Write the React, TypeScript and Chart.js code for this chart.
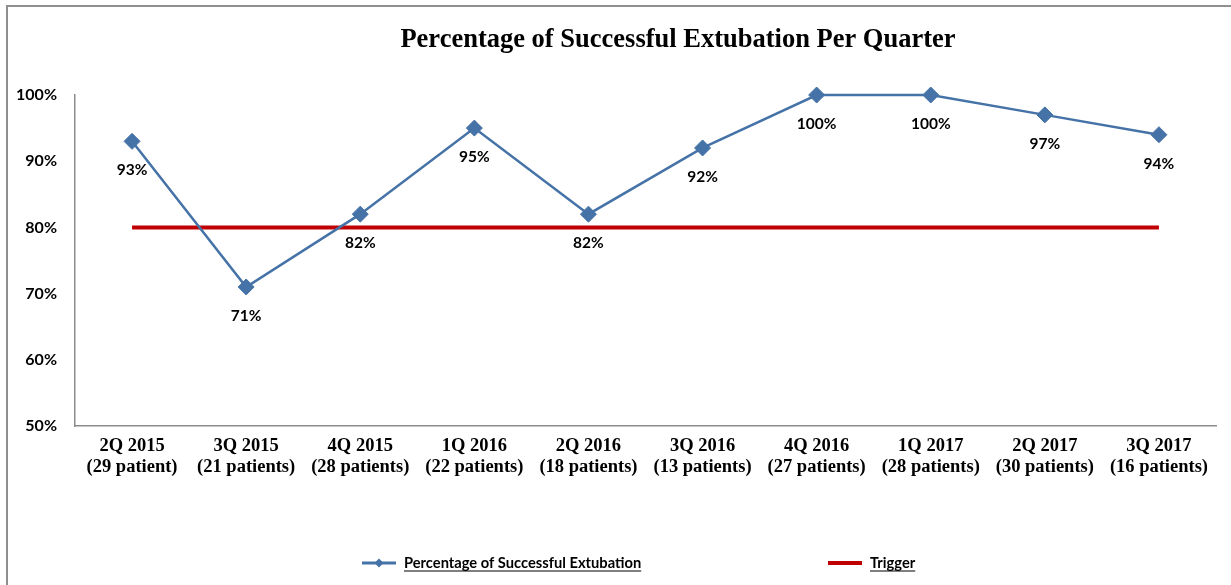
import React, { useEffect, useRef } from "react";
import { Chart, registerables } from "chart.js";

Chart.register(...registerables);

const TITLE = "Percentage of Successful Extubation Per Quarter";
const quarters = ["2Q 2015", "3Q 2015", "4Q 2015", "1Q 2016", "2Q 2016", "3Q 2016", "4Q 2016", "1Q 2017", "2Q 2017", "3Q 2017"];
const patients = ["(29 patient)", "(21 patients)", "(28 patients)", "(22 patients)", "(18 patients)", "(13 patients)", "(27 patients)", "(28 patients)", "(30 patients)", "(16 patients)"];
const successPct = [93, 71, 82, 95, 82, 92, 100, 100, 97, 94];
const triggerPct = [80, 80, 80, 80, 80, 80, 80, 80, 80, 80];
const SERIES_NAME = "Percentage of Successful Extubation";
const TRIGGER_NAME = "Trigger";

const BLUE = "#4572A7";
const RED = "#C00000";
const SANS = "Lato, 'Open Sans', sans-serif";
const SERIF = "'Liberation Serif', 'DejaVu Serif', serif";

const overlay = {
  id: "overlay",
  afterDatasetsDraw(chart: any) {
    const ctx = chart.ctx;
    const meta = chart.getDatasetMeta(0);
    ctx.save();
    ctx.fillStyle = "#000";
    ctx.font = `bold 15.5px ${SANS}`;
    ctx.textAlign = "center";
    ctx.textBaseline = "middle";
    meta.data.forEach((pt: any, i: number) => {
      ctx.fillText(successPct[i] + "%", pt.x, pt.y + 29);
    });
    ctx.restore();
  },
  afterDraw(chart: any) {
    const ctx = chart.ctx;
    ctx.save();
    // title
    ctx.fillStyle = "#000";
    ctx.font = `bold 26.5px ${SERIF}`;
    ctx.textAlign = "center";
    ctx.textBaseline = "middle";
    ctx.fillText(TITLE, 678, 40);

    // legend
    const ly = 563;
    ctx.font = `bold 14.7px ${SANS}`;
    ctx.textAlign = "left";
    ctx.textBaseline = "middle";
    // blue entry
    ctx.strokeStyle = BLUE;
    ctx.lineWidth = 3;
    ctx.beginPath();
    ctx.moveTo(362, ly);
    ctx.lineTo(396, ly);
    ctx.stroke();
    ctx.fillStyle = BLUE;
    ctx.beginPath();
    ctx.moveTo(379, ly - 4.5);
    ctx.lineTo(383.5, ly);
    ctx.lineTo(379, ly + 4.5);
    ctx.lineTo(374.5, ly);
    ctx.closePath();
    ctx.fill();
    ctx.fillStyle = "#000";
    const t1x = 404;
    ctx.fillText(SERIES_NAME, t1x, ly);
    const w1 = ctx.measureText(SERIES_NAME).width;
    ctx.strokeStyle = "#000";
    ctx.lineWidth = 1;
    ctx.beginPath();
    ctx.moveTo(t1x, ly + 8);
    ctx.lineTo(t1x + w1, ly + 8);
    ctx.stroke();
    // red entry
    ctx.strokeStyle = RED;
    ctx.lineWidth = 4;
    ctx.beginPath();
    ctx.moveTo(828, ly);
    ctx.lineTo(862, ly);
    ctx.stroke();
    const t2x = 870;
    ctx.fillStyle = "#000";
    ctx.fillText(TRIGGER_NAME, t2x, ly);
    const w2 = ctx.measureText(TRIGGER_NAME).width;
    ctx.strokeStyle = "#000";
    ctx.lineWidth = 1;
    ctx.beginPath();
    ctx.moveTo(t2x, ly + 8);
    ctx.lineTo(t2x + w2, ly + 8);
    ctx.stroke();
    ctx.restore();
  },
};

export default function App() {
  const ref = useRef<HTMLCanvasElement | null>(null);

  useEffect(() => {
    document.body.style.margin = "0";
    if (!ref.current) return;
    const labels = quarters.map((q, i) => [q, patients[i]]);
    const chart = new Chart(ref.current, {
      type: "line",
      data: {
        labels,
        datasets: [
          {
            label: SERIES_NAME,
            data: successPct,
            borderColor: BLUE,
            backgroundColor: BLUE,
            borderWidth: 2.5,
            pointStyle: "rectRot",
            pointRadius: 8,
            pointBorderWidth: 1,
            pointBackgroundColor: BLUE,
            pointBorderColor: BLUE,
            tension: 0,
            clip: false as any,
            order: 0,
          },
          {
            label: TRIGGER_NAME,
            data: triggerPct,
            borderColor: RED,
            backgroundColor: RED,
            borderWidth: 4,
            pointRadius: 0,
            tension: 0,
            order: 1,
          },
        ],
      },
      plugins: [overlay],
      options: {
        animation: false,
        responsive: false,
        events: [],
        layout: { padding: { left: 0, right: 15, top: 95, bottom: 0 } },
        plugins: {
          legend: { display: false },
          title: { display: false },
          tooltip: { enabled: false },
        },
        scales: {
          x: {
            type: "category",
            offset: true,
            grid: { display: false, drawTicks: false },
            border: { display: true, color: "#8C8C8C", width: 1.5 },
            ticks: {
              color: "#000",
              padding: 10,
              maxRotation: 0,
              autoSkip: false,
              font: { family: SERIF, size: 18.5, weight: "bold", lineHeight: 1.14 },
            },
            afterFit: (s: any) => {
              s.height = 159;
            },
          },
          y: {
            min: 50,
            max: 100,
            grid: { display: false, drawTicks: false },
            border: { display: true, color: "#8C8C8C", width: 1.5 },
            ticks: {
              stepSize: 10,
              color: "#000",
              padding: 18,
              font: { family: SANS, size: 16, weight: "bold" },
              callback: (v: any) => v + "%",
            },
            afterFit: (s: any) => {
              s.width = 75;
            },
          },
        },
      },
    });
    return () => chart.destroy();
  }, []);

  return (
    <div style={{ position: "relative", width: 1231, height: 585, overflow: "hidden", background: "#fff" }}>
      <div
        style={{
          position: "absolute",
          left: 6,
          top: 5,
          width: 1260,
          height: 620,
          border: "2px solid #8F8F8F",
          boxSizing: "border-box",
        }}
      />
      <canvas ref={ref} width={1231} height={585} style={{ position: "absolute", left: 0, top: 0, display: "block" }} />
    </div>
  );
}
